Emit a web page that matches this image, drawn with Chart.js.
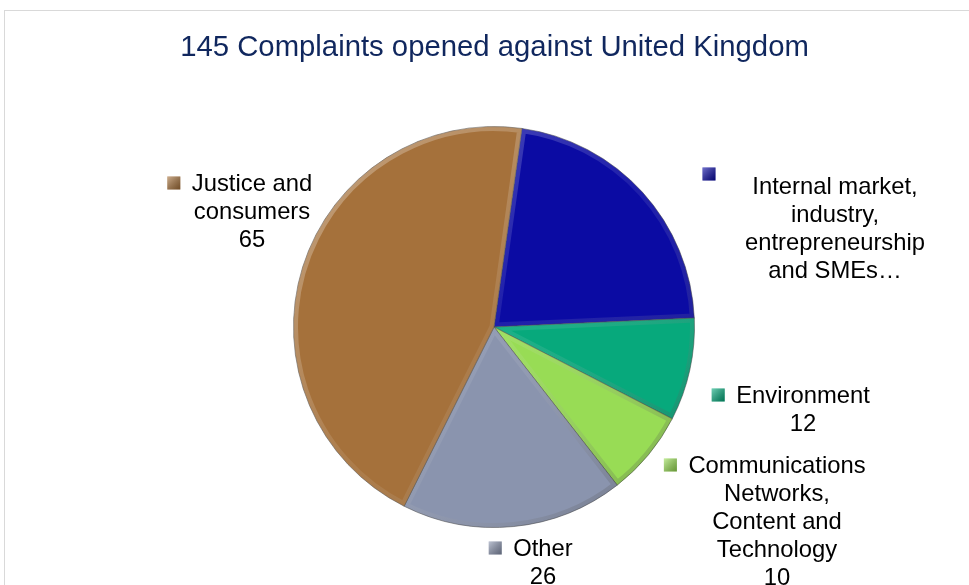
<!DOCTYPE html>
<html lang="en">

<head>
    <meta charset="UTF-8">
    <title>Complaints UK</title>
    <script src="https://cdn.jsdelivr.net/npm/chart.js"></script>
    <style>
        body { margin: 0; background: #fff; }
        .frame {
            position: absolute; left: 4px; top: 10px;
            width: 1000px; height: 600px;
            border: 1px solid #d9d9d9;
        }
        #pie { position: absolute; left: 0; top: 0; }
    </style>
</head>

<body>
    <div class="frame"></div>
    <canvas id="pie" width="969" height="585"></canvas>

    <script>
        // dati del grafico
        const titleText = '145 Complaints opened against United Kingdom';
        const categories = ['Internal market, industry, entrepreneurship and SMEs…', 'Environment',
            'Communications Networks, Content and Technology', 'Other', 'Justice and consumers'];
        const complaints = [32, 12, 10, 26, 65];
        // righe delle etichette (il numero viene aggiunto sotto, tranne per Internal market)
        const labelLines = [
            ['Internal market,', 'industry,', 'entrepreneurship', 'and SMEs…'],
            ['Environment'],
            ['Communications', 'Networks,', 'Content and', 'Technology'],
            ['Other'],
            ['Justice and', 'consumers']
        ];
        const showValue = [false, true, true, true, true];
        const colors = ['#0b0ba3', '#07a97c', '#98dc55', '#8a94ae', '#a5713b'];

        // posizione delle etichette rispetto al centro della torta
        const labelOffset = [
            { x: 341, y: -140, kx: 215, ky: -153 },
            { x: 309, y: 69 },
            { x: 283, y: 139 },
            { x: 49, y: 222 },
            { x: -242, y: -143 }
        ];

        const labelFont = '23.8px "Liberation Sans", Arial, sans-serif';
        const lineH = 28;

        // effetto rilievo sulle fette
        const bevelPlugin = {
            id: 'bevel',
            afterDatasetsDraw(chart) {
                const ctx = chart.ctx;
                chart.getDatasetMeta(0).data.forEach(arc => {
                    const p = arc.getProps(['x', 'y', 'startAngle', 'endAngle', 'outerRadius']);
                    ctx.save();
                    ctx.beginPath();
                    ctx.moveTo(p.x, p.y);
                    ctx.arc(p.x, p.y, p.outerRadius, p.startAngle, p.endAngle);
                    ctx.closePath();
                    ctx.clip();
                    const g = ctx.createLinearGradient(p.x - p.outerRadius, p.y - p.outerRadius,
                        p.x + p.outerRadius, p.y + p.outerRadius);
                    g.addColorStop(0, 'rgba(255,255,255,0.35)');
                    g.addColorStop(0.5, 'rgba(255,255,255,0.08)');
                    g.addColorStop(1, 'rgba(0,0,0,0.28)');
                    ctx.strokeStyle = g;
                    ctx.lineWidth = 9;
                    ctx.lineJoin = 'round';
                    ctx.stroke();
                    ctx.restore();
                });
            }
        };

        // titolo ed etichette
        const labelPlugin = {
            id: 'labels',
            afterDraw(chart) {
                const ctx = chart.ctx;
                ctx.save();
                ctx.fillStyle = '#10275e';
                ctx.font = '29.3px "Liberation Sans", Arial, sans-serif';
                ctx.textAlign = 'center';
                ctx.textBaseline = 'middle';
                ctx.fillText(titleText, chart.width / 2 + 10, 48);

                const meta = chart.getDatasetMeta(0);
                ctx.font = labelFont;
                meta.data.forEach((arc, i) => {
                    const cx = arc.x, cy = arc.y;
                    const off = labelOffset[i];
                    const lines = labelLines[i].slice();
                    if (showValue[i]) lines.push(String(complaints[i]));
                    const tx = cx + off.x, ty = cy + off.y;
                    ctx.fillStyle = '#000';
                    lines.forEach((l, j) => ctx.fillText(l, tx, ty + j * lineH));
                    // quadratino della legenda
                    let kx, ky;
                    if (off.kx !== undefined) {
                        kx = cx + off.kx; ky = cy + off.ky;
                    } else {
                        const w = ctx.measureText(lines[0]).width;
                        kx = tx - w / 2 - 18; ky = ty - 1;
                    }
                    const kg = ctx.createLinearGradient(kx - 6, ky - 6, kx + 6, ky + 6);
                    kg.addColorStop(0, 'rgba(255,255,255,0.4)');
                    kg.addColorStop(1, 'rgba(0,0,0,0.3)');
                    ctx.fillStyle = colors[i];
                    ctx.fillRect(kx - 6.5, ky - 6.5, 13, 13);
                    ctx.fillStyle = kg;
                    ctx.fillRect(kx - 6.5, ky - 6.5, 13, 13);
                });
                ctx.restore();
            }
        };

        new Chart(document.getElementById('pie'), {
            type: 'pie',
            data: {
                labels: categories,
                datasets: [{
                    data: complaints,
                    backgroundColor: colors,
                    borderColor: 'rgba(60,60,60,0.5)',
                    borderWidth: 1
                }]
            },
            options: {
                responsive: false,
                animation: false,
                devicePixelRatio: 1,
                rotation: 8,
                layout: { padding: { top: 126, bottom: 57, left: 293, right: 274 } },
                plugins: {
                    legend: { display: false },
                    tooltip: { enabled: false }
                }
            },
            plugins: [bevelPlugin, labelPlugin]
        });
    </script>
</body>

</html>
